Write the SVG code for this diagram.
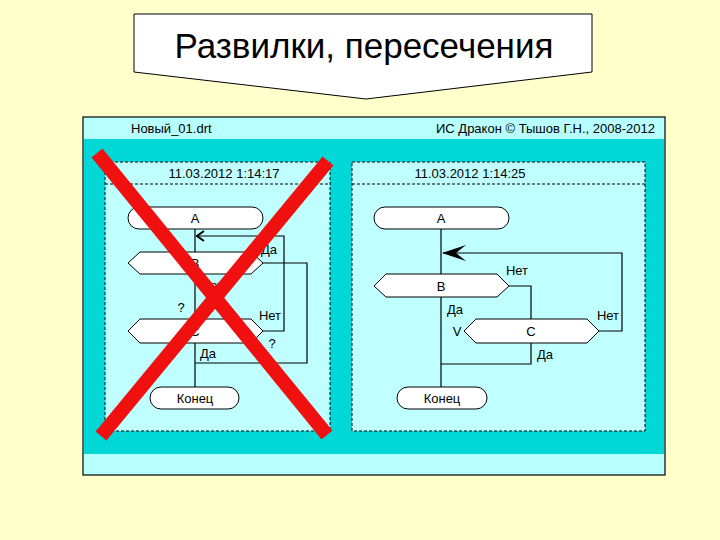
<svg xmlns="http://www.w3.org/2000/svg" width="720" height="540" viewBox="0 0 720 540">
<defs>
<style>
.t{font-family:"Liberation Sans",Arial,sans-serif;font-size:13px;fill:#000}
.c{text-anchor:middle}
.node{fill:#fff;stroke:#000;stroke-width:1}
.ln{fill:none;stroke:#000;stroke-width:1.2}
.panel{fill:#C0FFFF;stroke:#000;stroke-width:1;stroke-dasharray:3,2}
.cross{stroke:#F01010;stroke-width:14;stroke-linecap:butt}
</style>
</defs>
<rect width="720" height="540" fill="#FFFFCC"/>
<g id="title">
<path d="M134,14 H592 V72 L366,99 L134,72 Z" fill="#fff" stroke="#000" stroke-width="1"/>
<text x="364" y="58" font-family="'Liberation Sans',Arial,sans-serif" font-size="35" text-anchor="middle">Развилки, пересечения</text>
</g>
<g id="window">
<rect x="83" y="117" width="582" height="358" fill="#B8FFFF" stroke="#000" stroke-width="1.2"/>
<rect x="84" y="139" width="580" height="315" fill="#00D8D8"/>
<text class="t" x="131" y="133" font-size="14">Новый_01.drt</text>
<text class="t" x="655" y="133" text-anchor="end" font-size="14">ИС Дракон © Тышов Г.Н., 2008-2012</text>
</g>
<g id="panel-left">
<rect class="panel" x="105" y="162" width="225" height="269"/>
<line x1="105" y1="184" x2="330" y2="184" stroke="#000" stroke-dasharray="3,2"/>
<text class="t c" x="224" y="178" font-size="13.5">11.03.2012 1:14:17</text>
</g>
<g id="panel-right">
<rect class="panel" x="352" y="162" width="293" height="269"/>
<line x1="352" y1="184" x2="645" y2="184" stroke="#000" stroke-dasharray="3,2"/>
<text class="t c" x="470" y="178" font-size="13.5">11.03.2012 1:14:25</text>
</g>
<g id="connectors">
<path class="ln" d="M195,229 V387"/>
<path class="ln" d="M196,236 H284 V331 H263"/>
<path class="ln" d="M263,263 H307 V363 H195"/>
<path d="M204,231 L197,236 L204,241" fill="none" stroke="#000" stroke-width="2"/>
<path class="ln" d="M441,229 V387"/>
<path class="ln" d="M443,253 H622 V331 H599"/>
<path class="ln" d="M509,286 H531 V319"/>
<path class="ln" d="M531,343 V364 H441"/>
<path d="M442,253 L466,245 L456,253 L466,261 Z" fill="#000"/>
</g>
<g id="left-A"><rect class="node" x="128" y="207" width="135" height="22" rx="11"/><text class="t c" x="195" y="223">A</text></g>
<g id="left-B"><path class="node" d="M128,263 L140,252 H251 L263,263 L251,274 H140 Z"/><text class="t c" x="195" y="268">B</text></g>
<g id="left-C"><path class="node" d="M128,331 L140,319 H251 L263,331 L251,343 H140 Z"/><text class="t c" x="195" y="336">C</text></g>
<g id="left-end"><rect class="node" x="150" y="387" width="89" height="22" rx="11"/><text class="t c" x="195" y="403">Конец</text></g>
<g id="left-labels">
<text class="t c" x="269" y="254">Да</text>
<text class="t c" x="212" y="290">Нет</text>
<text class="t c" x="181" y="312">?</text>
<text class="t c" x="270" y="320">Нет</text>
<text class="t c" x="272" y="348">?</text>
<text class="t c" x="208" y="358">Да</text>
</g>
<g id="right-A"><rect class="node" x="374" y="207" width="135" height="22" rx="11"/><text class="t c" x="441" y="223">A</text></g>
<g id="right-B"><path class="node" d="M374,286 L386,274 H497 L509,286 L497,297 H386 Z"/><text class="t c" x="441" y="291">B</text></g>
<g id="right-C"><path class="node" d="M464,331 L476,319 H587 L599,331 L587,343 H476 Z"/><text class="t c" x="531" y="336">C</text></g>
<g id="right-end"><rect class="node" x="397" y="387" width="90" height="22" rx="11"/><text class="t c" x="442" y="403">Конец</text></g>
<g id="right-labels">
<text class="t c" x="517" y="275">Нет</text>
<text class="t c" x="455" y="314">Да</text>
<text class="t c" x="457" y="336">V</text>
<text class="t c" x="608" y="320">Нет</text>
<text class="t c" x="545" y="359">Да</text>
</g>
<g id="cross">
<line class="cross" x1="97" y1="153" x2="327" y2="435"/>
<line class="cross" x1="328" y1="161" x2="101" y2="436"/>
</g>
</svg>
